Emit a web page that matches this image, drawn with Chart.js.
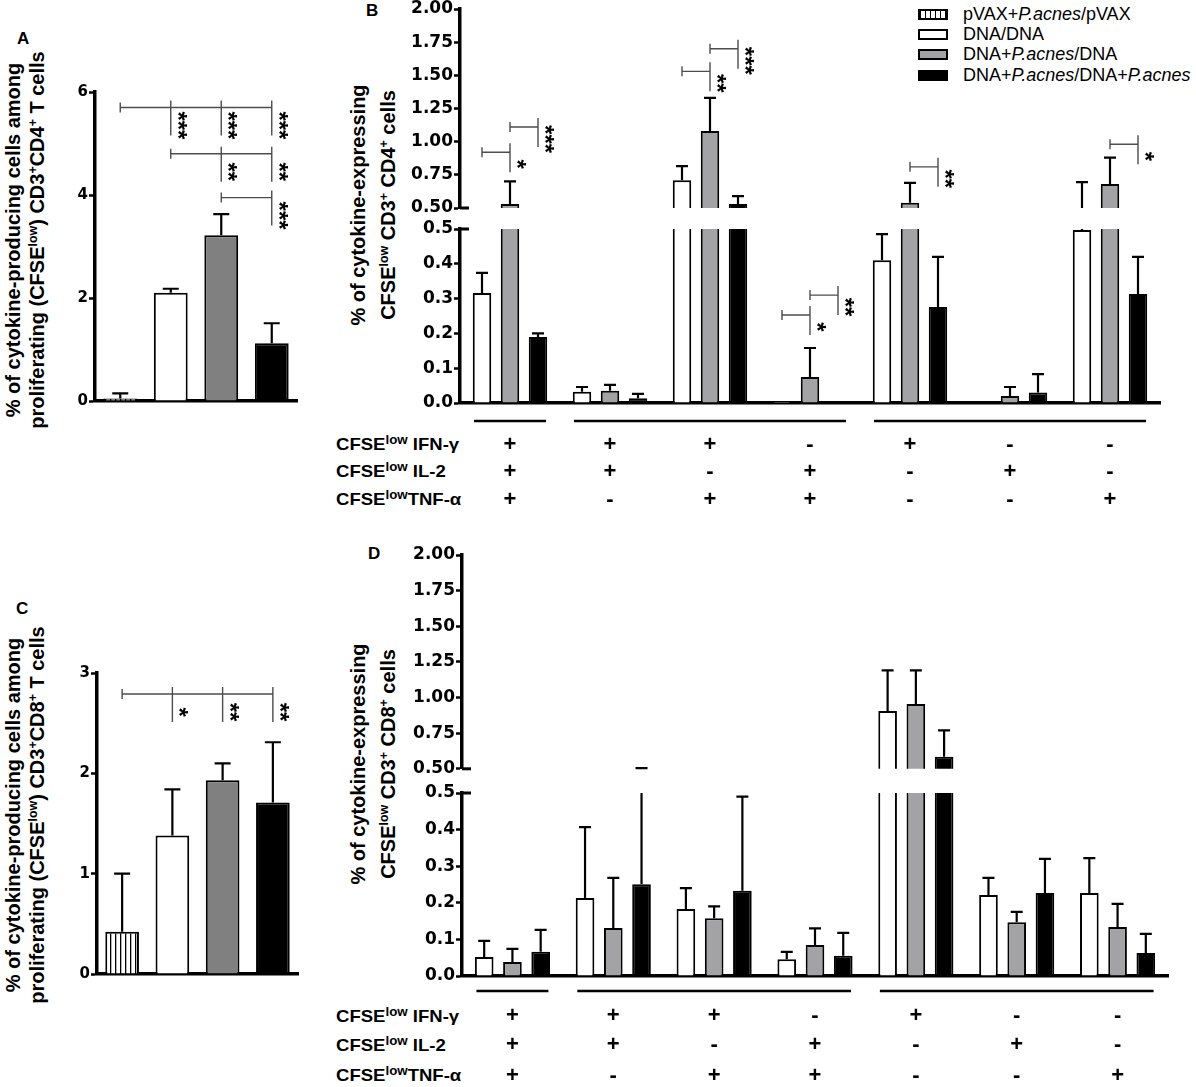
<!DOCTYPE html>
<html>
<head>
<meta charset="utf-8">
<script src="https://cdn.jsdelivr.net/npm/chart.js@4.4.1/dist/chart.umd.min.js"></script>
<style>
  body { margin: 0; width: 1196px; height: 1087px; position: relative; overflow: hidden; background: #fff; font-family: "Liberation Sans", Arial, sans-serif; color: #000; }
  canvas { position: absolute; }
  .ttl { position: absolute; font-weight: bold; font-size: 20px; white-space: nowrap; line-height: 1; transform: translate(-50%, -50%) rotate(-90deg); }
  .ttl sup { font-size: 0.62em; vertical-align: 0.6em; line-height: 0; }
  .row sup { font-size: 0.72em; vertical-align: 0.5em; line-height: 0; }
  .letter { position: absolute; font-weight: bold; font-size: 17px; line-height: 1; }
  .row { position: absolute; left: 336px; font-weight: bold; font-size: 17px; line-height: 20px; white-space: nowrap; transform: scaleX(1.09); transform-origin: left center; }
  .lg { position: absolute; left: 918px; font-size: 18px; line-height: 20px; white-space: nowrap; }
  .lg span.box { position: absolute; left: 0; top: 5px; width: 26px; height: 7px; border: 2px solid #000; }
  .lg span.txt { position: absolute; left: 45px; top: 0; }
</style>
</head>
<body>

<div class="letter" style="left:17px;top:30px">A</div>
<div class="letter" style="left:366px;top:2px">B</div>
<div class="letter" style="left:16px;top:600px">C</div>
<div class="letter" style="left:368px;top:545px">D</div>

<div class="ttl" style="left:13px;top:240px">% of cytokine-producing cells among</div>
<div class="ttl" style="left:37px;top:240px">proliferating (CFSE<sup>low</sup>) CD3<sup>+</sup>CD4<sup>+</sup> T cells</div>
<div class="ttl" style="left:13px;top:815px">% of cytokine-producing cells among</div>
<div class="ttl" style="left:37px;top:815px">proliferating (CFSE<sup>low</sup>) CD3<sup>+</sup>CD8<sup>+</sup> T cells</div>
<div class="ttl" style="left:358px;top:205px">% of cytokine-expressing</div>
<div class="ttl" style="left:388px;top:205px">CFSE<sup>low</sup> CD3<sup>+</sup> CD4<sup>+</sup> cells</div>
<div class="ttl" style="left:358px;top:764px">% of cytokine-expressing</div>
<div class="ttl" style="left:388px;top:764px">CFSE<sup>low</sup> CD3<sup>+</sup> CD8<sup>+</sup> cells</div>

<div id="legend"></div>
<div id="rows"></div>

<canvas id="chartA"></canvas>
<canvas id="chartC"></canvas>
<canvas id="chartBup"></canvas>
<canvas id="chartBlow"></canvas>
<canvas id="chartDup"></canvas>
<canvas id="chartDlow"></canvas>

<script>
// groups (legend order)
const groupNames = ["pVAX+P.acnes/pVAX", "DNA/DNA", "DNA+P.acnes/DNA", "DNA+P.acnes/DNA+P.acnes"];

// panel A: total cytokine-producing CD4 cells (mean, top of error bar)
const cd4Total = [0.05, 2.1, 3.22, 1.12];
const cd4TotalErr = [0.15, 2.18, 3.63, 1.51];
// panel C: total cytokine-producing CD8 cells
const cd8Total = [0.42, 1.38, 1.93, 1.71];
const cd8TotalErr = [1.0, 1.84, 2.1, 2.31];

// cytokine combinations for B and D
const combos = ["IFN+IL2+TNF+", "IFN+IL2+", "IFN+TNF+", "IL2+TNF+", "IFN+", "IL2+", "TNF+"];
const ifnRow = ["+", "+", "+", "-", "+", "-", "-"];
const il2Row = ["+", "+", "-", "+", "-", "+", "-"];
const tnfRow = ["+", "-", "+", "+", "-", "-", "+"];
const rowLabels = ["CFSE<sup>low</sup> IFN-γ", "CFSE<sup>low</sup> IL-2", "CFSE<sup>low</sup>TNF-α"];

// panel B: CD4, three groups
const cd4Dna = [0.316, 0.032, 0.71, 0.005, 0.41, 0, 0.497];
const cd4DnaErr = [0.374, 0.046, 0.815, 0.005, 0.485, 0, 0.695];
const cd4Pa = [0.53, 0.035, 1.08, 0.075, 0.54, 0.02, 0.68];
const cd4PaErr = [0.70, 0.052, 1.33, 0.158, 0.69, 0.046, 0.88];
const cd4PaPa = [0.19, 0.014, 0.53, 0, 0.276, 0.03, 0.313];
const cd4PaPaErr = [0.20, 0.026, 0.59, 0, 0.42, 0.083, 0.42];

// panel D: CD8, three groups
const cd8Dna = [0.052, 0.213, 0.183, 0.046, 0.906, 0.221, 0.227];
const cd8DnaErr = [0.096, 0.407, 0.24, 0.066, 1.19, 0.268, 0.322];
const cd8Pa = [0.038, 0.131, 0.158, 0.085, 0.955, 0.147, 0.134];
const cd8PaErr = [0.074, 0.268, 0.19, 0.13, 1.19, 0.175, 0.197];
const cd8PaPa = [0.066, 0.251, 0.233, 0.055, 0.585, 0.227, 0.063];
const cd8PaPaErr = [0.126, 0.505, 0.49, 0.118, 0.77, 0.32, 0.115];

// significance brackets: from/to = [category, series], drops = [category, series, stars]
const sigA = [
  { y: 5.7, from: [0, 0], to: [3, 0], drops: [[1, 0, "***"], [2, 0, "***"], [3, 0, "***"]] },
  { y: 4.8, from: [1, 0], to: [3, 0], drops: [[2, 0, "**"], [3, 0, "**"]] },
  { y: 3.95, from: [2, 0], to: [3, 0], drops: [[3, 0, "***"]] },
];
const sigC = [
  { y: 2.79, from: [0, 0], to: [3, 0], drops: [[1, 0, "*"], [2, 0, "**"], [3, 0, "**"]] },
];
const sigB = [
  { y: 0.92, from: [0, 0], to: [0, 1], drops: [[0, 1, "*"]] },
  { y: 1.11, from: [0, 1], to: [0, 2], drops: [[0, 2, "***"]] },
  { y: 1.53, from: [2, 0], to: [2, 1], drops: [[2, 1, "**"]] },
  { y: 1.70, from: [2, 1], to: [2, 2], drops: [[2, 2, "***"]] },
  { y: 0.253, from: [3, 0], to: [3, 1], drops: [[3, 1, "*"]] },
  { y: 0.31, from: [3, 1], to: [3, 2], drops: [[3, 2, "**"]] },
  { y: 0.81, from: [4, 1], to: [4, 2], drops: [[4, 2, "**"]] },
  { y: 0.98, from: [6, 1], to: [6, 2], drops: [[6, 2, "*"]] },
];

const GRAY_AC = "#808080";
const GRAY_BD = "#a3a3a6";

Chart.defaults.font.family = '"DejaVu Sans", sans-serif';
Chart.defaults.font.weight = "bold";
Chart.defaults.color = "#000";
Chart.defaults.animation = false;
Chart.defaults.plugins.legend.display = false;
Chart.defaults.plugins.tooltip.enabled = false;

// vertical stripes for the pVAX bars
function stripes() {
  const c = document.createElement("canvas");
  c.width = 5; c.height = 4;
  const g = c.getContext("2d");
  g.fillStyle = "#fff"; g.fillRect(0, 0, 5, 4);
  g.fillStyle = "#000"; g.fillRect(0, 0, 1.3, 4);
  return g.createPattern(c, "repeat");
}
const stripe = stripes();

// error bars, brackets, break marks and the +/- table
const extras = {
  id: "extras",
  afterDraw(chart, args, o) {
    const ctx = chart.ctx, xs = chart.scales.x, ys = chart.scales.y, area = chart.chartArea;
    const n = chart.data.datasets.length;
    const slot = xs.width / chart.data.labels.length * o.catPct / n;
    const px = (g, s) => xs.getPixelForValue(g) + (s - (n - 1) / 2) * slot;
    ctx.save();

    // error bars (upper side only)
    ctx.strokeStyle = "#000";
    ctx.lineWidth = o.errW;
    o.values.forEach((vals, s) => {
      vals.forEach((v, g) => {
        const e = o.errors[s][g];
        const lo = Math.max(v, ys.min), hi = Math.min(e, ys.max);
        if (!(hi > lo)) return;
        const x = px(g, s), yTop = ys.getPixelForValue(hi);
        ctx.beginPath();
        ctx.moveTo(x, ys.getPixelForValue(lo));
        ctx.lineTo(x, yTop);
        if (e <= ys.max) { ctx.moveTo(x - o.cap, yTop); ctx.lineTo(x + o.cap, yTop); }
        ctx.stroke();
      });
    });

    // significance brackets
    (o.brackets || []).filter(b => b.y >= ys.min && b.y <= ys.max).forEach(b => {
      const y = ys.getPixelForValue(b.y);
      const x0 = px(b.from[0], b.from[1]), x1 = px(b.to[0], b.to[1]);
      ctx.strokeStyle = "#4d4d4d";
      ctx.lineWidth = 1.4;
      ctx.beginPath();
      ctx.moveTo(x0, y); ctx.lineTo(x1, y);
      ctx.moveTo(x0, y - 5); ctx.lineTo(x0, y + 5);
      b.drops.forEach(d => {
        const x = px(d[0], d[1]);
        ctx.moveTo(x, y - o.up); ctx.lineTo(x, y + o.down);
      });
      ctx.stroke();
      ctx.fillStyle = "#000";
      ctx.font = 'bold 24px "Liberation Sans"';
      ctx.textAlign = "center";
      ctx.textBaseline = "alphabetic";
      b.drops.forEach(d => {
        const x = px(d[0], d[1]);
        ctx.save();
        ctx.translate(x - 1, y + o.starY);
        ctx.rotate(Math.PI / 2);
        ctx.fillText(d[2], 0, 0);
        ctx.restore();
      });
    });

    // axis break mark
    if (o.brk) {
      const yb = o.brk === "top" ? area.top : area.bottom;
      ctx.strokeStyle = "#000";
      ctx.lineWidth = 3;
      ctx.beginPath();
      ctx.moveTo(area.left, yb); ctx.lineTo(area.left + 9, yb);
      ctx.stroke();
    }

    // combination table under the axis
    if (o.rows) {
      ctx.strokeStyle = "#000";
      ctx.lineWidth = 2.5;
      ctx.beginPath();
      o.spans.forEach(sp => {
        const y = area.bottom + o.ulY;
        ctx.moveTo(xs.getPixelForValue(sp[0]) - 36, y);
        ctx.lineTo(xs.getPixelForValue(sp[1]) + 36, y);
      });
      ctx.stroke();
      ctx.fillStyle = "#000";
      ctx.font = 'bold 22px "Liberation Sans"';
      ctx.textAlign = "center";
      ctx.textBaseline = "middle";
      o.rows.forEach((row, r) => {
        row.forEach((t, g) => ctx.fillText(t, xs.getPixelForValue(g), area.bottom + o.rowY[r]));
      });
    }
    ctx.restore();
  }
};

function makeChart(id, box, area, cfg) {
  const cv = document.getElementById(id);
  cv.width = box.w; cv.height = box.h;
  cv.style.left = box.x + "px";
  cv.style.top = box.y + "px";
  return new Chart(cv, {
    type: "bar",
    data: { labels: cfg.labels, datasets: cfg.datasets },
    options: {
      responsive: false,
      events: [],
      layout: {
        padding: { left: 0, top: area.top - box.y, right: box.x + box.w - area.right, bottom: box.y + box.h - area.bottom }
      },
      datasets: {
        bar: { clip: 0, borderColor: "#000", borderWidth: 2, categoryPercentage: cfg.catPct, barPercentage: cfg.barPct }
      },
      scales: {
        x: {
          display: cfg.xAxis,
          z: 1,
          ticks: { display: false },
          grid: { display: false },
          border: { display: true, color: "#000", width: 3.5 },
          afterFit: s => { s.height = 0; }
        },
        y: {
          min: cfg.min, max: cfg.max,
          ticks: { stepSize: cfg.step, callback: cfg.fmt, font: { size: cfg.fs, weight: "bold" }, padding: 1, color: "#000" },
          grid: { drawOnChartArea: false, drawTicks: true, tickLength: 6, tickWidth: 2.5, tickColor: "#000" },
          border: { color: "#000", width: 3.5 },
          afterFit: s => { s.width = area.left - box.x; }
        }
      },
      plugins: { extras: cfg.extras }
    },
    plugins: [extras]
  });
}

// ---- panel A / C
function totalChart(id, box, area, vals, errs, max, step, brackets) {
  return makeChart(id, box, area, {
    labels: groupNames,
    datasets: [{ data: vals, backgroundColor: [stripe, "#fff", GRAY_AC, "#000"], clip: 0 }],
    catPct: 1, barPct: 0.67, xAxis: true,
    min: 0, max: max, step: step, fmt: v => v, fs: 15,
    extras: { catPct: 1, values: [vals], errors: [errs], errW: 2.2, cap: 8, brackets: brackets, up: 7, down: 28, starY: 18 }
  });
}
totalChart("chartA", { x: 40, y: 70, w: 270, h: 345 }, { left: 95, right: 297, top: 92, bottom: 401 }, cd4Total, cd4TotalErr, 6, 2, sigA);
totalChart("chartC", { x: 40, y: 650, w: 270, h: 340 }, { left: 97, right: 298, top: 673, bottom: 974 }, cd8Total, cd8TotalErr, 3, 1, sigC);

// ---- panel B / D (broken axis: upper 0.5-2.0, lower 0-0.5)
function splitCharts(prefix, boxUp, areaUp, boxLow, areaLow, series, errs, brackets, rowY, ulY) {
  const colors = ["#fff", GRAY_BD, "#000"];
  const common = { labels: combos, catPct: 0.84, barPct: 0.66 };
  const ex = { catPct: 0.84, values: series, errors: errs, errW: 2.2, cap: 6, brackets: brackets, up: 9, down: 20, starY: 12 };
  makeChart(prefix + "up", boxUp, areaUp, Object.assign({}, common, {
    datasets: series.map((d, i) => ({ data: d.map(v => v > 0.5 ? v : null), backgroundColor: colors[i], clip: 0 })),
    xAxis: false, min: 0.5, max: 2.0, step: 0.25, fmt: v => v.toFixed(2), fs: 17,
    extras: Object.assign({}, ex, { brk: "bottom" })
  }));
  makeChart(prefix + "low", boxLow, areaLow, Object.assign({}, common, {
    datasets: series.map((d, i) => ({ data: d, backgroundColor: colors[i], clip: 0 })),
    xAxis: true, min: 0, max: 0.5, step: 0.1, fmt: v => v.toFixed(1), fs: 17,
    extras: Object.assign({}, ex, { brk: "top", rows: [ifnRow, il2Row, tnfRow], rowY: rowY, ulY: ulY, spans: [[0, 0], [1, 3], [4, 6]] })
  }));
}
splitCharts("chartB",
  { x: 400, y: -12, w: 796, h: 232 }, { left: 460, right: 1160, top: 9, bottom: 208 },
  { x: 400, y: 215, w: 796, h: 305 }, { left: 460, right: 1160, top: 229, bottom: 403 },
  [cd4Dna, cd4Pa, cd4PaPa], [cd4DnaErr, cd4PaErr, cd4PaPaErr], sigB, [42, 69, 97], 18);
splitCharts("chartD",
  { x: 400, y: 540, w: 796, h: 240 }, { left: 462, right: 1168, top: 555, bottom: 769 },
  { x: 400, y: 780, w: 796, h: 307 }, { left: 462, right: 1168, top: 793, bottom: 976 },
  [cd8Dna, cd8Pa, cd8PaPa], [cd8DnaErr, cd8PaErr, cd8PaPaErr], [], [40, 69, 100], 15);

// ---- legend
const legendBoxes = [
  "background:repeating-linear-gradient(90deg,#000 0 1.5px,#fff 1.5px 5px)",
  "background:#fff", "background:" + GRAY_BD, "background:#000"
];
const legendY = [4, 24, 44, 65];
document.getElementById("legend").innerHTML = groupNames.map((name, i) =>
  '<div class="lg" style="top:' + legendY[i] + 'px"><span class="box" style="' + legendBoxes[i] + '"></span>' +
  '<span class="txt">' + name.replace(/P\.acnes/g, "<i>P.acnes</i>") + "</span></div>").join("");

// ---- row labels of the combination tables
const rowTops = [[445, 472, 500], [1017, 1046, 1076]];
document.getElementById("rows").innerHTML = rowTops.map(tops =>
  tops.map((t, r) => '<div class="row" style="top:' + (t - 10) + 'px">' + rowLabels[r] + "</div>").join("")).join("");
</script>
</body>
</html>
